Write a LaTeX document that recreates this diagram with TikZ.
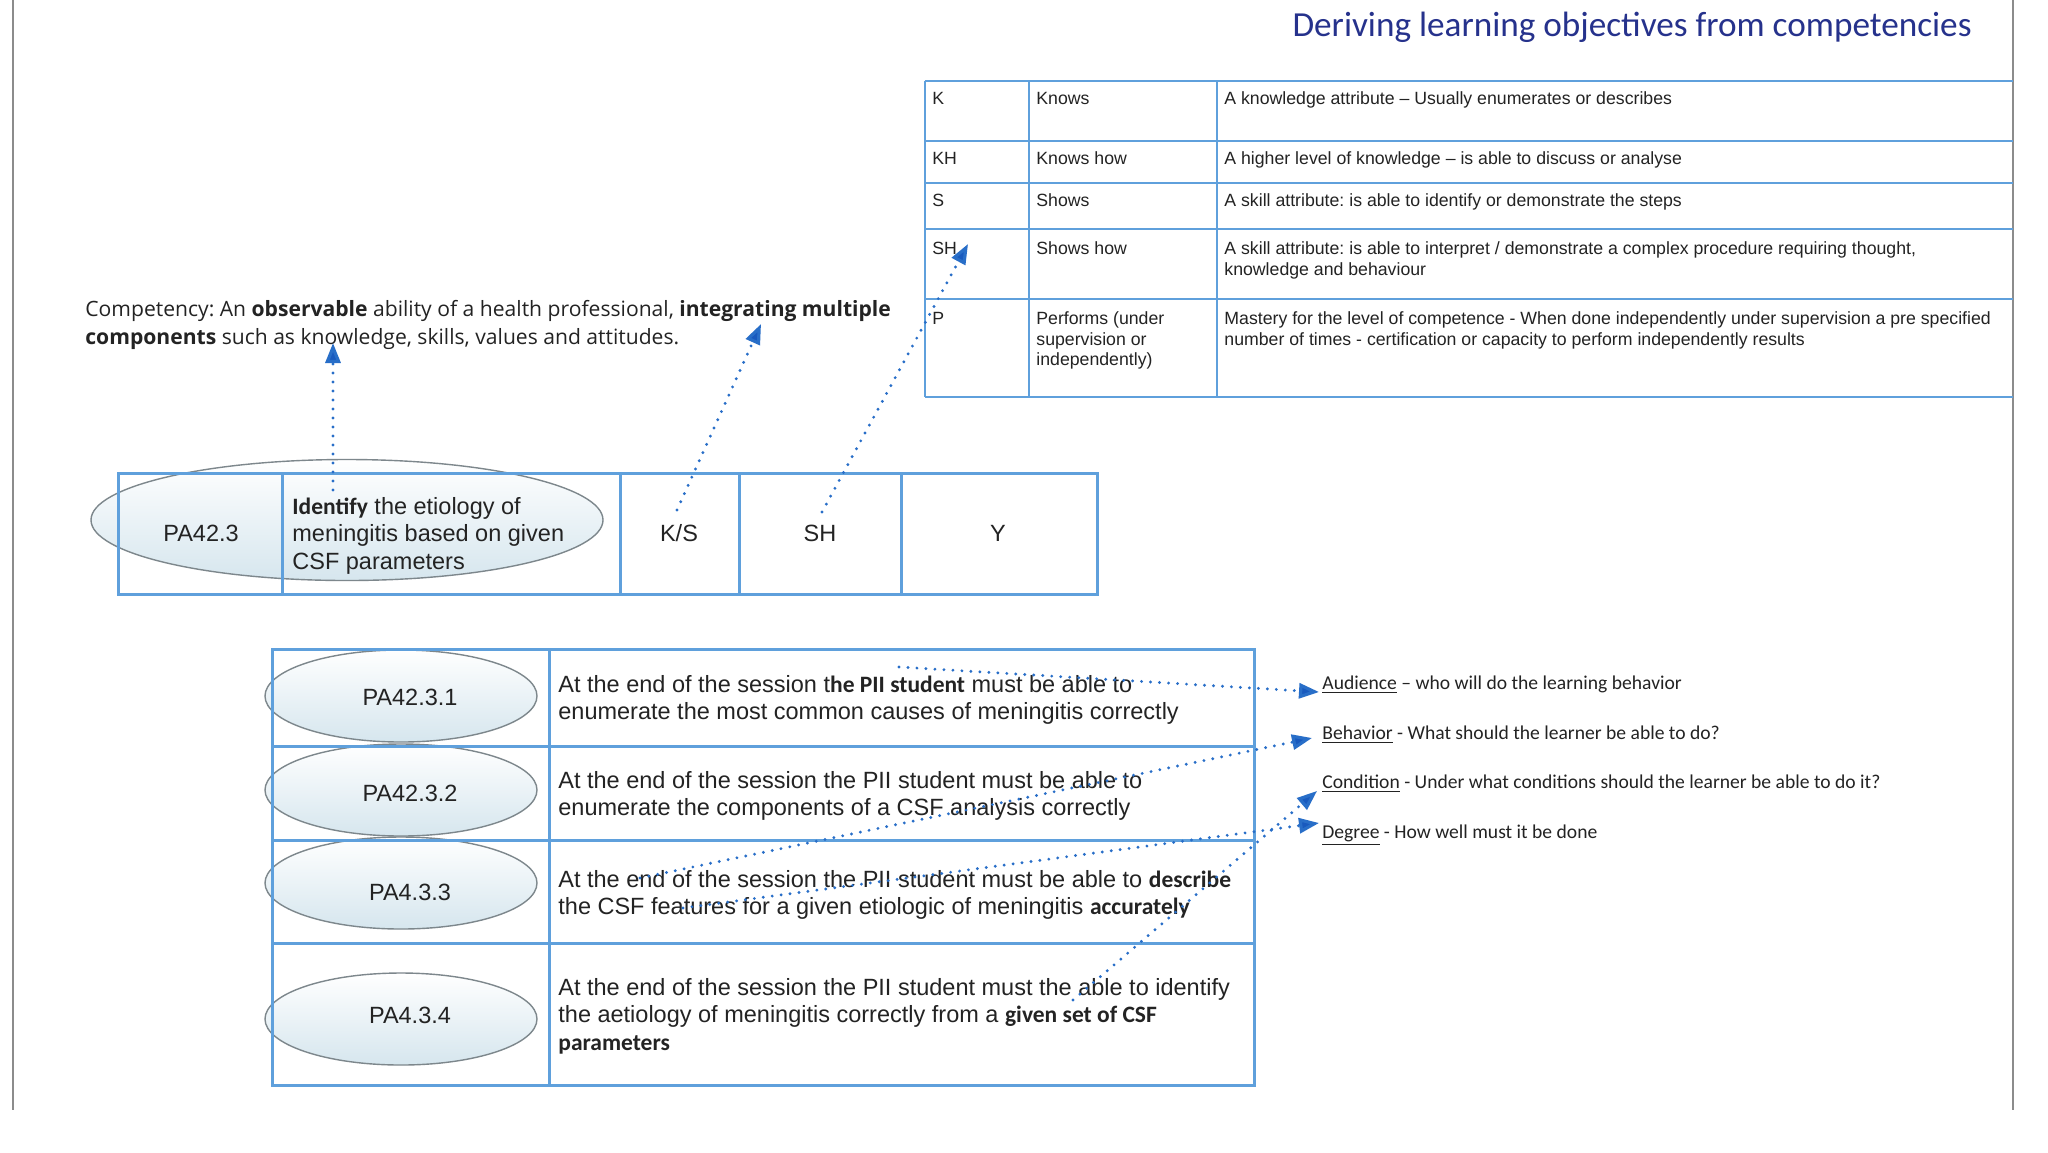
\documentclass[tikz,border=0pt]{standalone}
\usepackage{fontspec}
\setmainfont{Liberation Sans}
\newfontfamily\calfont{Carlito}
\newfontfamily\osfont{Open Sans}
\usetikzlibrary{arrows.meta,shapes.geometric}
\definecolor{tblue}{RGB}{95,160,220}
\definecolor{ablue}{RGB}{40,110,200}
\definecolor{hblue}{RGB}{25,90,190}
\definecolor{navy}{RGB}{38,50,140}
\definecolor{ink}{RGB}{35,35,35}
\definecolor{egray}{RGB}{125,135,140}
\definecolor{efill}{RGB}{214,230,238}
\definecolor{fgray}{RGB}{140,140,140}
\newcommand\cb[1]{{\calfont\bfseries #1}}
\newcommand\tst{\rule{0pt}{0.8em}}
\frenchspacing
\begin{document}
\begin{tikzpicture}[x=0.5pt,y=-0.5pt,
  tline/.style={draw=tblue, line width=1.5pt},
  tlinethin/.style={draw=tblue, line width=1pt},
  body/.style={font=\fontsize{11.75}{13.75}\selectfont, text=ink, inner sep=0pt, align=left, anchor=north west},
  lab/.style={font=\fontsize{11.75}{13.75}\selectfont, text=ink, inner sep=0pt},
  small/.style={font=\fontsize{8.85}{10.25}\selectfont, text=ink, inner sep=0pt, align=left, anchor=north west},
  cal/.style={font=\osfont\fontsize{10.55}{14}\selectfont, text=ink, inner sep=0pt, align=left, anchor=north west},
  abcd/.style={font=\calfont\fontsize{9.8}{12}\selectfont, text=ink, inner sep=0pt, anchor=base west},
  bigell/.style={ellipse, draw=egray, line width=0.7pt, top color=white, bottom color=efill, minimum width=256pt, minimum height=60.5pt, inner sep=0pt},
  smell/.style={ellipse, draw=egray, line width=0.7pt, top color=white, bottom color=efill, minimum width=136pt, minimum height=46pt, inner sep=0pt},
  dotarrow/.style={draw=ablue, line width=1.6pt, line cap=round, dash pattern=on 0pt off 4.5pt, -{Triangle[length=10pt,width=7.5pt,fill=hblue]}},
  frame/.style={draw=fgray, line width=1pt}]
\useasboundingbox (0,0) rectangle (2048,1152);
\fill[white] (0,0) rectangle (2048,1152);

% frame
\draw[frame] (13,0) -- (13,1110);
\draw[frame] (2013,0) -- (2013,1110);

% title
\node[font=\calfont\fontsize{17.6}{21}\selectfont, text=navy, inner sep=0pt] (title) at (1632,27) {Deriving learning objectives from competencies};

% top table
\draw[tlinethin] (925,81) -- (2013,81);
\draw[tlinethin] (925,141) -- (2013,141);
\draw[tlinethin] (925,183) -- (2013,183);
\draw[tlinethin] (925,229) -- (2013,229);
\draw[tlinethin] (925,299) -- (2013,299);
\draw[tlinethin] (925,397) -- (2013,397);
\draw[tlinethin] (925,81) -- (925,397);
\draw[tlinethin] (1029,81) -- (1029,397);
\draw[tlinethin] (1217,81) -- (1217,397);

\node[small] (k1) at (932,90) {\tst K};
\node[small] (k2) at (1036,90) {\tst Knows};
\node[small] (k3) at (1224,90) {\tst A knowledge attribute – Usually enumerates or describes};
\node[small] (kh1) at (932,150) {\tst KH};
\node[small] (kh2) at (1036,150) {\tst Knows how};
\node[small] (kh3) at (1224,150) {\tst A higher level of knowledge – is able to discuss or analyse};
\node[small] (s1) at (932,192) {\tst S};
\node[small] (s2) at (1036,192) {\tst Shows};
\node[small] (s3) at (1224,192) {\tst A skill attribute: is able to identify or demonstrate the steps};
\node[small] (sh1) at (932,240) {\tst SH};
\node[small] (sh2) at (1036,240) {\tst Shows how};
\node[small] (sh3) at (1224,240) {\tst A skill attribute: is able to interpret / demonstrate a complex procedure requiring thought,\\knowledge and behaviour};
\node[small] (p1) at (932,310) {\tst P};
\node[small] (p2) at (1036,310) {\tst Performs (under\\supervision or\\independently)};
\node[small] (p3) at (1224,310) {\tst Mastery for the level of competence - When done independently under supervision a pre specified\\number of times - certification or capacity to perform independently results};

% competency definition
\node[cal] (comp) at (85,299) {\tst Competency: An \textbf{observable} ability of a health professional, \textbf{integrating multiple}\\\textbf{components} such as knowledge, skills, values and attitudes.};

% middle table
\node[bigell] (e0) at (347,520) {};
\draw[tline] (118,473) rectangle (1097,594);
\draw[tline] (282,473) -- (282,594);
\draw[tline] (620,473) -- (620,594);
\draw[tline] (739,473) -- (739,594);
\draw[tline] (901,473) -- (901,594);
\node[lab] (pa) at (201,533) {PA42.3};
\node[body] (ident) at (292,495) {\tst\cb{Identify} the etiology of\\meningitis based on given\\CSF parameters};
\node[lab, anchor=base] (ks) at (679,541) {K/S};
\node[lab, anchor=base] (shc) at (820,541) {SH};
\node[lab, anchor=base] (yc) at (998,541) {Y};

% bottom table
\node[smell] (e1) at (401,696) {};
\node[smell] (e2) at (401,790) {};
\node[smell] (e3) at (401,883) {};
\node[smell] (e4) at (401,1019) {};
\draw[tline] (272,649) rectangle (1254,1085);
\draw[tline] (272,746) -- (1254,746);
\draw[tline] (272,840) -- (1254,840);
\draw[tline] (272,943) -- (1254,943);
\draw[tline] (549,649) -- (549,1085);
\node[lab] (l1) at (410,697) {PA42.3.1};
\node[lab] (l2) at (410,793) {PA42.3.2};
\node[lab] (l3) at (410,892) {PA4.3.3};
\node[lab] (l4) at (410,1015) {PA4.3.4};
\node[body] (r1) at (558,673) {\tst At the end of the session t\cb{he PII student} must be able to\\enumerate the most common causes of meningitis correctly};
\node[body] (r2) at (558,769) {\tst At the end of the session the PII student must be able to\\enumerate the components of a CSF analysis correctly};
\node[body] (r3) at (558,868) {\tst At the end of the session the PII student must be able to \cb{describe}\\the CSF features for a given etiologic of meningitis \cb{accurately}};
\node[body] (r4) at (558,976) {\tst At the end of the session the PII student must the able to identify\\the aetiology of meningitis correctly from a \cb{given set of CSF}\\\cb{parameters}};

% ABCD
\node[abcd] (aud) at (1322,689) {\underline{Audience} – who will do the learning behavior};
\node[abcd] (beh) at (1322,739) {\underline{Behavior} - What should the learner be able to do?};
\node[abcd] (con) at (1322,788) {\underline{Condition} - Under what conditions should the learner be able to do it?};
\node[abcd] (deg) at (1322,838) {\underline{Degree} - How well must it be done};

% arrow endpoints
\coordinate (a1s) at (333,490);
\coordinate (a1e) at (333,343);
\coordinate (a2s) at (677,510);
\coordinate (a2e) at (761,324);
\coordinate (a3s) at (822,512);
\coordinate (a3e) at (968,244);
\coordinate (aAs) at (899,667);
\coordinate (aAe) at (1319,692);
\coordinate (aBs) at (640,878);
\coordinate (aBe) at (1312,738);
\coordinate (aCs) at (1073,1000);
\coordinate (aCe) at (1317,791);
\coordinate (aDs) at (683,908);
\coordinate (aDe) at (1319,823);

\draw[dotarrow] (a1s) -- (a1e);
\draw[dotarrow] (a2s) -- (a2e);
\draw[dotarrow] (a3s) -- (a3e);
\draw[dotarrow] (aAs) -- (aAe);
\draw[dotarrow] (aBs) -- (aBe);
\draw[dotarrow] (aCs) -- (aCe);
\draw[dotarrow] (aDs) -- (aDe);
\end{tikzpicture}
\end{document}
